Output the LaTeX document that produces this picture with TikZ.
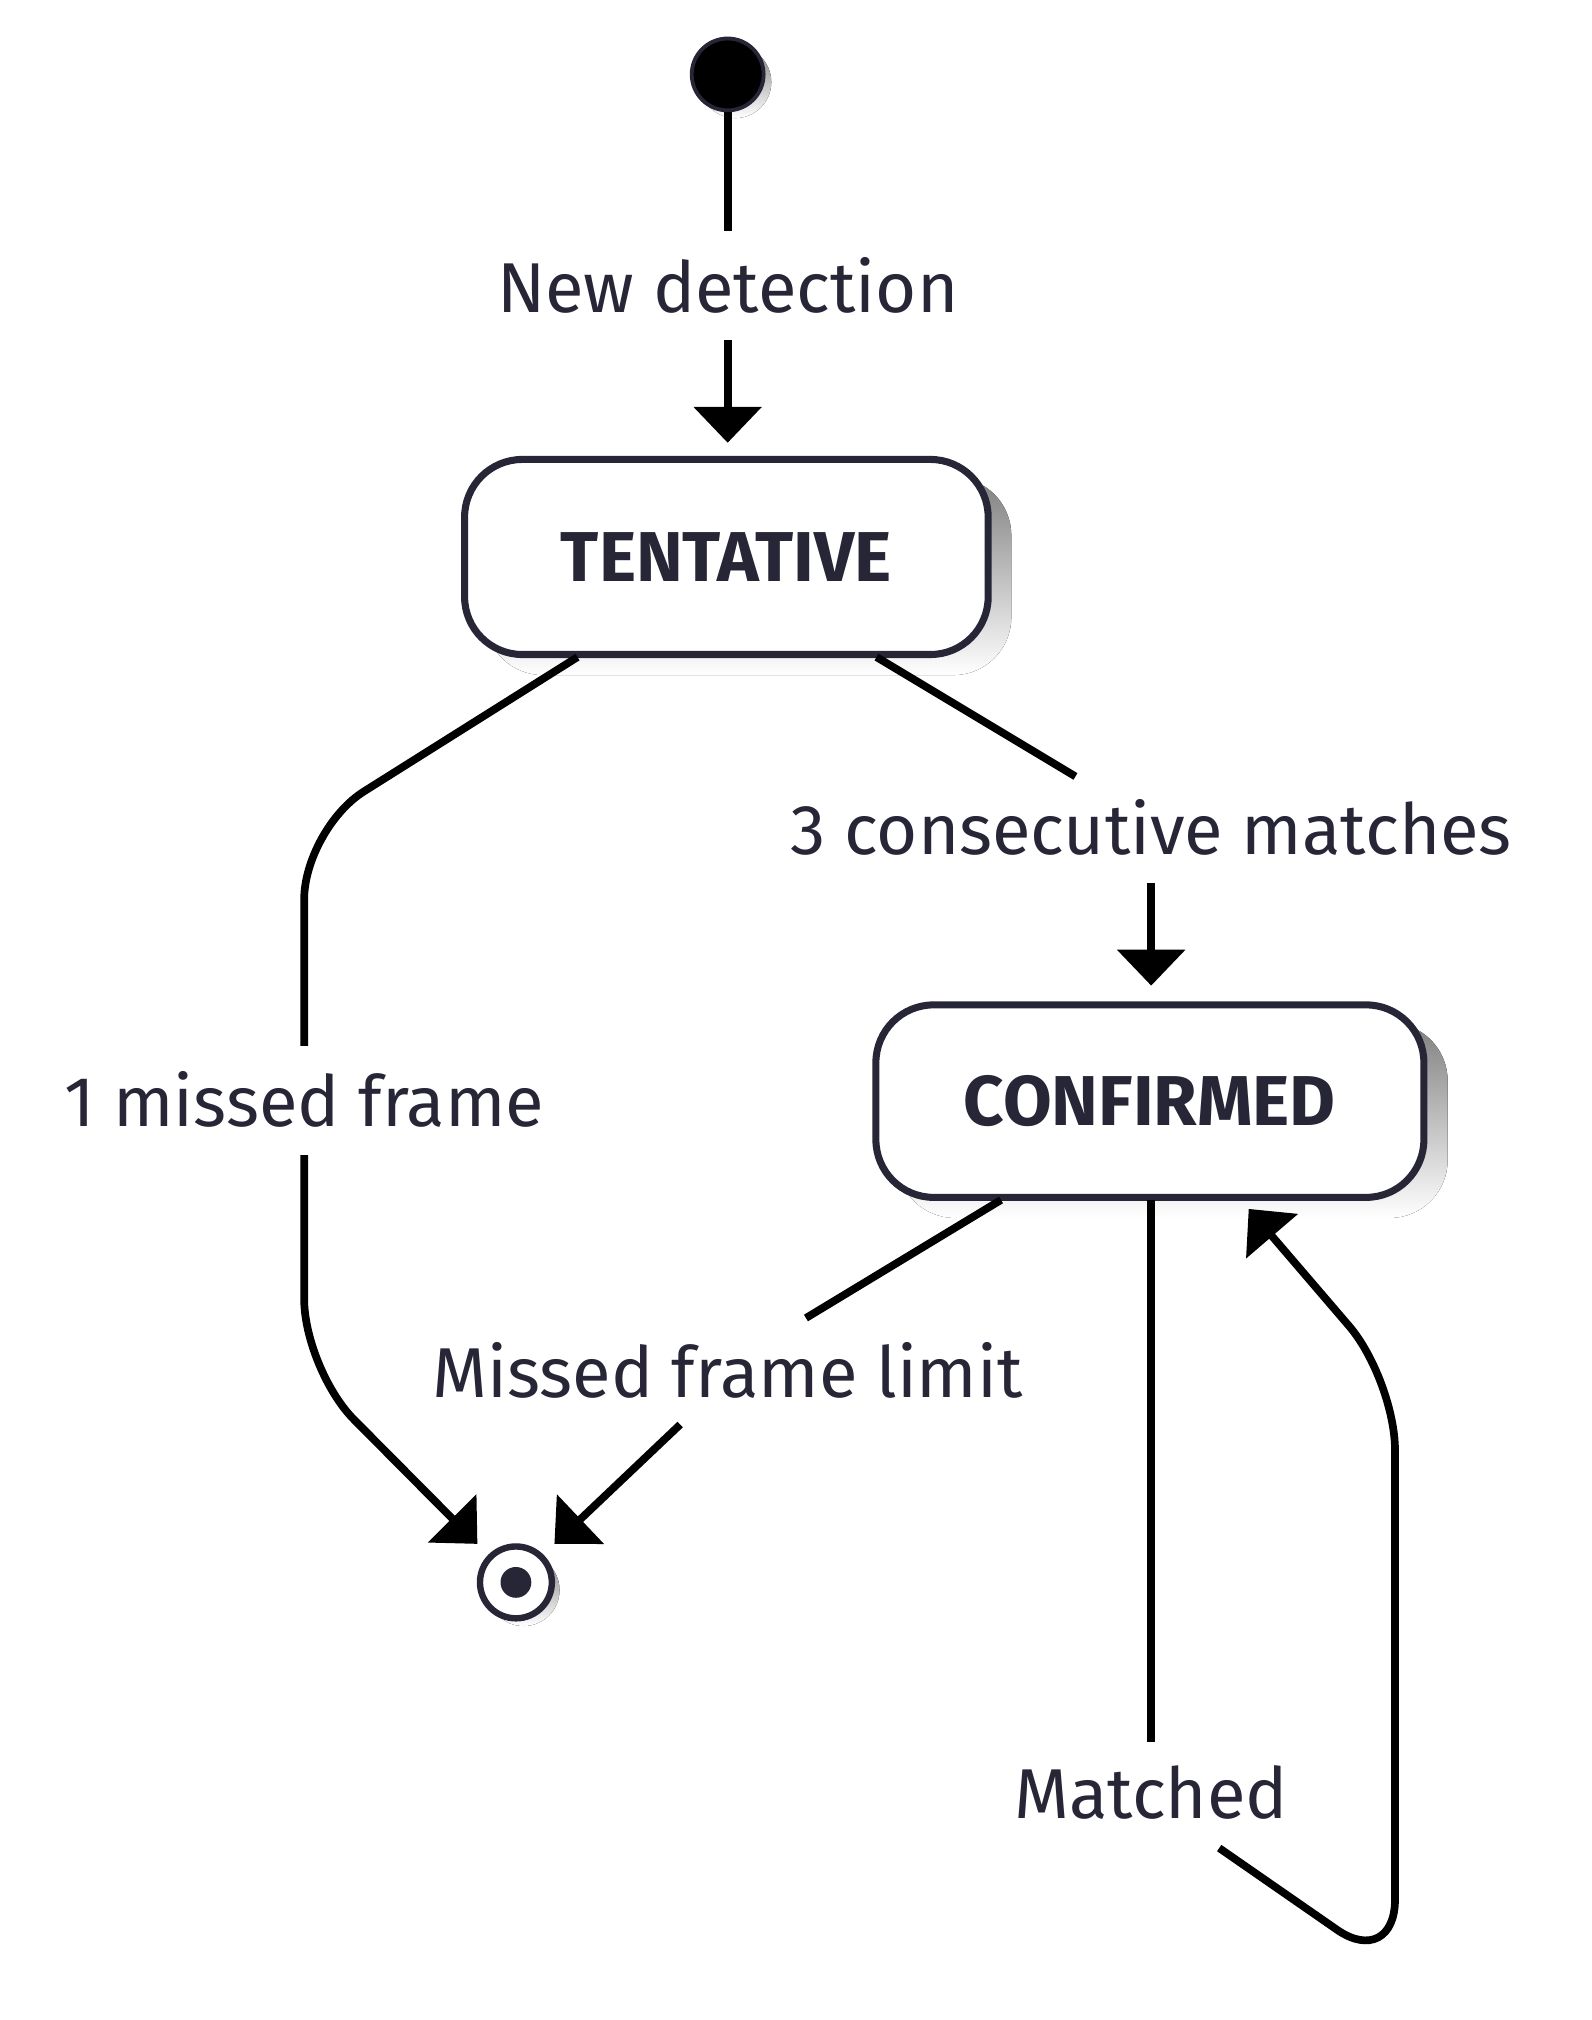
\documentclass[tikz,border=0pt]{standalone}
\usepackage{fontspec}
\setmainfont{Fira Sans}
\usetikzlibrary{arrows.meta}
\definecolor{ink}{HTML}{262637}
\definecolor{shade}{HTML}{EEEEF1}
\begin{document}
\begin{tikzpicture}[x=1pt,y=-1pt,
  edge/.style={line width=6pt,black,line join=round},
  arr/.style={edge,-{Triangle[width=52pt,length=28pt]}},
  lbl/.style={font=\fontsize{55}{60}\selectfont,text=ink,inner sep=0pt},
  state/.style={draw=ink,line width=5.5pt,fill=white,rounded corners=45pt,font=\fontsize{55}{60}\selectfont\bfseries,text=ink}]
\useasboundingbox (0,0) rectangle (1240,1574);
% shadows
\fill[shade,rounded corners=45pt] (378,372) rectangle (788,526);
\fill[shade,rounded corners=45pt] (699,797) rectangle (1128,949);
\fill[shade] (573,64) circle (28);
\fill[shade] (408,1239) circle (28);
% states
\node[state,minimum width=408pt,minimum height=152pt] (t) at (566,434) {TENTATIVE};
\node[state,minimum width=427pt,minimum height=150pt] (c) at (896,858) {CONFIRMED};
\node[circle,fill=black,draw=ink,line width=3pt,minimum size=56pt,inner sep=0pt] (s) at (567,58) {};
\node[circle,draw=ink,fill=white,line width=5pt,minimum size=56pt,inner sep=0pt] (e) at (402,1233) {};
\fill[ink] (e) circle (12);
% labels
\node[lbl] (l1) at (567,222) {New detection};
\node[lbl] (l2) at (897,645) {3 consecutive matches};
\node[lbl] (l3) at (237,857) {1 missed frame};
\node[lbl] (l4) at (567,1068) {Missed frame limit};
\node[lbl] (l5) at (897,1397) {Matched};
\coordinate (e1) at (372,1203);
\coordinate (e2) at (432,1203);
% edges
\draw[edge] (s.south) -- (567,180);
\draw[arr] (567,265) -- (567,345);
\draw[edge,rounded corners=55pt] (450,512) -- (237,646) -- (237,815);
\draw[arr,rounded corners=55pt] (237,900) -- (237,1067) -- (e1);
\draw[edge] (683,512) -- (838,605);
\draw[arr] (897,688) -- (897,768);
\draw[edge] (780,935) -- (628,1027);
\draw[arr] (530,1110) -- (e2);
\draw[edge] (897,935) -- (897,1357);
\draw[arr,rounded corners=55pt] (950,1440) -- (1087,1535) -- (1087,1075) -- (973,942);
\end{tikzpicture}
\end{document}
